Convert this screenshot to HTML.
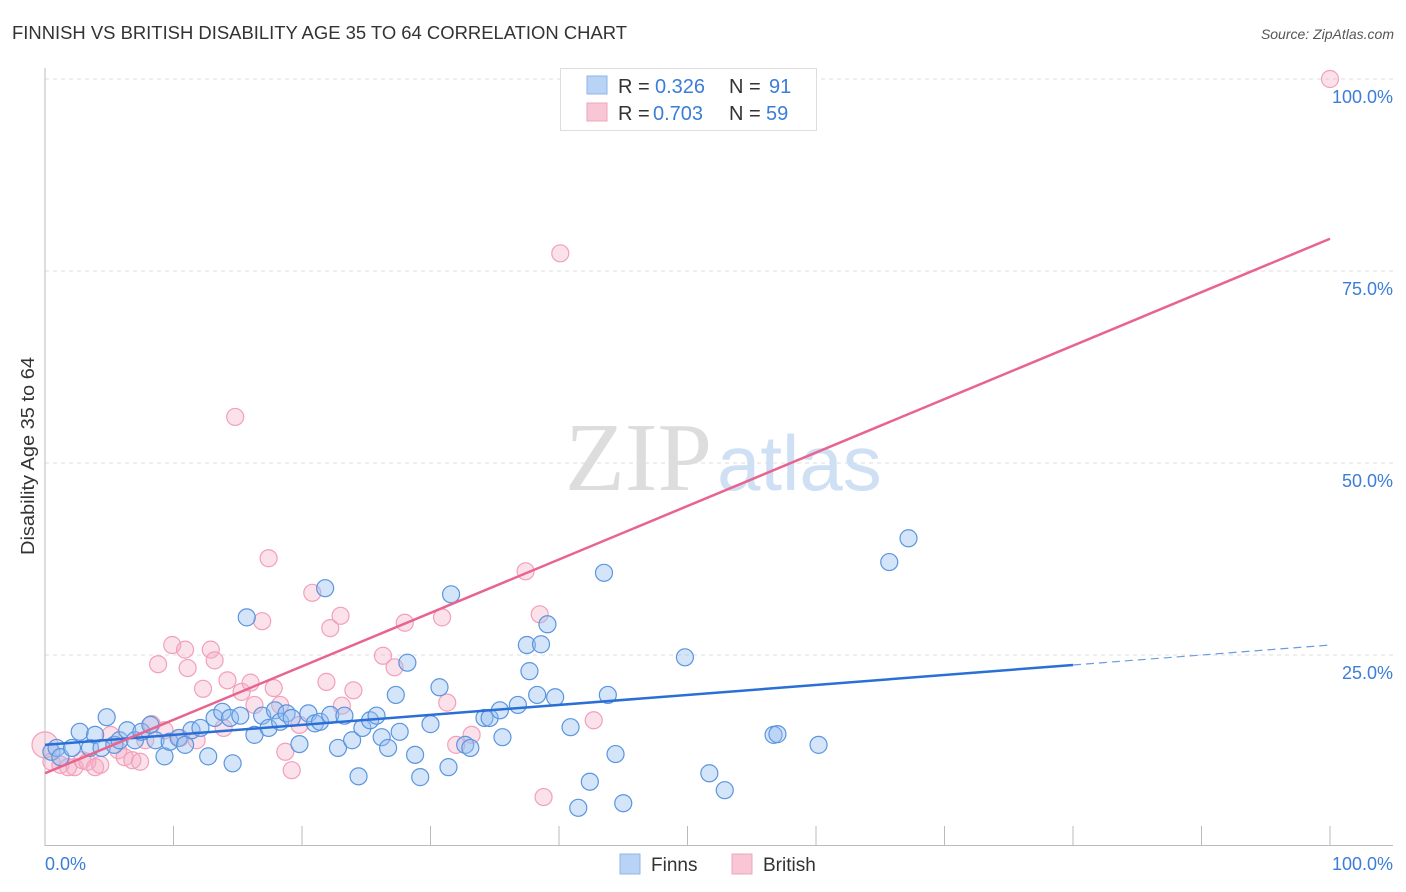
<!DOCTYPE html>
<html><head><meta charset="utf-8"><style>
body{margin:0;background:#fff;font-family:"Liberation Sans",sans-serif}
svg{display:block}
</style></head><body>
<svg id="chart" width="1406" height="892">
<text x="12" y="39" font-size="18.5" fill="#333" textLength="615" lengthAdjust="spacingAndGlyphs">FINNISH VS BRITISH DISABILITY AGE 35 TO 64 CORRELATION CHART</text>
<text x="1394" y="39" font-size="14" fill="#555" font-style="italic" text-anchor="end">Source: ZipAtlas.com</text>
<text x="34" y="456" font-size="18" fill="#333" text-anchor="middle" transform="rotate(-90 34 456)" textLength="198" lengthAdjust="spacingAndGlyphs">Disability Age 35 to 64</text>
<g id="grid"></g>
<g id="axes"></g>
<text x="712" y="490" font-size="98" fill="#ddd" text-anchor="end" font-family="Liberation Serif,serif">ZIP</text>
<text x="717" y="490" font-size="78" fill="#cfe0f5">atlas</text>
<g id="pts"></g>
<g id="lines"></g>
<g>
<rect x="560.5" y="68.5" width="256" height="62" fill="#fff" stroke="#ddd"/>
<rect x="587" y="76" width="20" height="18" fill="#b8d3f5" stroke="#8fb5e8"/>
<rect x="587" y="103" width="20" height="18" fill="#f8c6d5" stroke="#eea6bd"/>
<text x="618" y="93" font-size="20" fill="#333">R = <tspan fill="#3b7dd8" x="655">0.326</tspan><tspan x="729">N = </tspan><tspan fill="#3b7dd8" x="769">91</tspan></text>
<text x="618" y="120" font-size="20" fill="#333">R = <tspan fill="#3b7dd8" x="653">0.703</tspan><tspan x="729">N = </tspan><tspan fill="#3b7dd8" x="766">59</tspan></text>
</g>
<g>
<rect x="620" y="854" width="20" height="20" fill="#b8d3f5" stroke="#8fb5e8"/>
<text x="651" y="871" font-size="19" fill="#333">Finns</text>
<rect x="732" y="854" width="20" height="20" fill="#f8c6d5" stroke="#eea6bd"/>
<text x="763" y="871" font-size="19" fill="#333">British</text>
</g>
</svg>
<script>
const finnsX=[0.5,0.9,1.2,2.1,2.7,3.5,3.9,4.4,4.8,5.4,5.8,6.4,7.0,7.5,8.2,8.6,9.3,9.7,10.4,10.9,11.4,12.1,12.7,13.2,13.8,14.4,14.6,15.2,15.7,16.3,16.9,17.4,17.9,18.3,18.8,19.2,19.8,20.5,21.0,21.4,21.8,22.2,22.8,23.3,23.9,24.4,24.7,25.3,25.8,26.2,26.7,27.3,27.6,28.2,28.8,29.2,30.0,30.7,31.4,31.6,32.7,33.1,34.2,34.6,35.4,35.6,36.8,37.5,37.7,38.3,38.6,39.1,39.7,40.9,41.5,42.4,43.5,43.8,44.4,45.0,49.8,51.7,52.9,56.7,57.0,60.2,65.7,67.2];
const finnsY=[12.4,12.9,11.7,12.9,15.0,12.9,14.6,12.9,16.9,13.3,13.9,15.2,13.9,15.0,15.9,13.9,11.8,13.7,14.2,13.3,15.2,15.5,11.8,16.8,17.6,16.8,10.9,17.1,29.9,14.6,17.1,15.5,17.8,16.3,17.4,16.8,13.4,17.4,16.1,16.3,33.7,17.2,12.9,17.1,13.9,9.2,15.5,16.5,17.1,14.3,12.9,19.8,15.0,24.0,12.0,9.1,16.0,20.8,10.4,32.9,13.3,12.9,16.8,16.8,17.8,14.3,18.5,26.3,22.9,19.8,26.4,29.0,19.5,15.6,5.1,8.5,35.7,19.8,12.1,5.7,24.7,9.6,7.4,14.6,14.7,13.3,37.1,40.2];
const britX=[0,0.5,1.2,1.8,2.3,2.9,3.3,3.9,4.3,5.1,5.7,6.2,6.8,7.4,7.8,8.3,8.8,9.3,9.9,10.5,10.9,11.1,11.8,12.3,12.9,13.2,13.9,14.2,14.8,15.3,16.0,16.3,16.9,17.4,17.8,18.3,18.7,19.2,19.8,20.8,22.2,21.9,23.0,23.1,24.0,26.3,27.2,28.0,30.9,31.3,32.0,33.2,37.4,38.5,38.8,40.1,42.7,100];
const britY=[13.3,11.1,10.7,10.4,10.4,11.3,11.1,10.4,10.7,14.6,12.6,11.7,11.3,11.1,13.9,16.0,23.8,15.2,26.3,14.2,25.7,23.3,13.9,20.6,25.7,24.3,15.5,21.7,56.0,20.2,21.4,18.5,29.4,37.6,20.7,18.5,12.4,10.0,15.9,33.1,28.5,21.5,30.1,18.4,20.4,24.9,23.4,29.2,29.9,18.8,13.3,14.6,35.9,30.3,6.5,77.3,16.5,100];
const finnsTrend=[13.3,23.7,26.3]; // at x=0, 80, 100
const britTrend=[9.6,79.2]; // at x=0, 100
const yTicks=[25,50,75,100];
const NS="http://www.w3.org/2000/svg";
const sx=v=>45+v*12.85, sy=v=>847-v*7.68;
function mk(tag,attrs,parent){const e=document.createElementNS(NS,tag);for(const k in attrs)e.setAttribute(k,attrs[k]);parent.appendChild(e);return e;}
const grid=document.getElementById('grid'),axes=document.getElementById('axes');
yTicks.forEach(t=>{
 const l=mk('line',{x1:45,x2:1393,y1:sy(t),y2:sy(t),stroke:'#ddd','stroke-dasharray':'4,4'},grid);
 
 
 const tx=mk('text',{x:1393,y:sy(t)+24,'font-size':18,fill:'#3b7dd8','text-anchor':'end'},axes);
 tx.textContent=t.toFixed(1)+'%';
 
 
});
mk('line',{x1:45,x2:45,y1:68,y2:846,stroke:'#bbb'},axes);
mk('line',{x1:45,x2:1393,y1:845.5,y2:845.5,stroke:'#bbb'},axes);
for(let i=0;i<=10;i++){const l=mk('line',{x1:sx(i*10),x2:sx(i*10),y1:826,y2:845,stroke:'#bbb'},axes);
 
 }
const x0=mk('text',{x:45,y:870,'font-size':18,fill:'#3b7dd8'},axes);x0.textContent='0.0%';


const x1=mk('text',{x:1393,y:870,'font-size':18,fill:'#3b7dd8','text-anchor':'end'},axes);x1.textContent='100.0%';


const pts=document.getElementById('pts');
britX.forEach((x,i)=>{const c=mk('circle',{cx:sx(x),cy:sy(britY[i]),r:i==0?13:8.5,fill:'rgba(244,170,195,0.35)',stroke:'#f2a0ba','stroke-width':1.2},pts);
 
 });
finnsX.forEach((x,i)=>{const c=mk('circle',{cx:sx(x),cy:sy(finnsY[i]),r:8.5,fill:'rgba(150,190,240,0.4)',stroke:'#5a95e0','stroke-width':1.2},pts);
 
 });
const lines=document.getElementById('lines');
const bl=mk('line',{x1:sx(0),y1:sy(finnsTrend[0]),x2:sx(80),y2:sy(finnsTrend[1]),stroke:'#2a6fd6','stroke-width':2.5},lines);


const bd=mk('line',{x1:sx(80),y1:sy(finnsTrend[1]),x2:sx(100),y2:sy(finnsTrend[2]),stroke:'#6a9de0','stroke-width':1.2,'stroke-dasharray':'8,5'},lines);


const pl=mk('line',{x1:sx(0),y1:sy(britTrend[0]),x2:sx(100),y2:sy(britTrend[1]),stroke:'#e8648f','stroke-width':2.5},lines);


</script>
</body></html>
